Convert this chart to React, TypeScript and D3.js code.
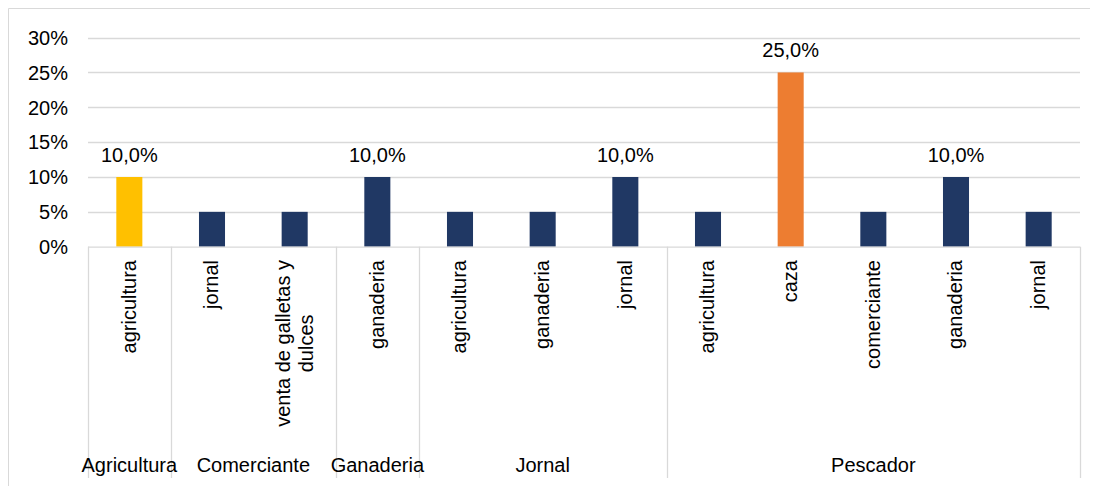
import React, { useEffect, useRef } from "react";
import * as d3 from "d3";

const groups = ["Agricultura", "Comerciante", "Ganaderia", "Jornal", "Pescador"];
const categories = [
  ["Agricultura", "agricultura"],
  ["Comerciante", "jornal"],
  ["Comerciante", "venta de galletas y dulces"],
  ["Ganaderia", "ganaderia"],
  ["Jornal", "agricultura"],
  ["Jornal", "ganaderia"],
  ["Jornal", "jornal"],
  ["Pescador", "agricultura"],
  ["Pescador", "caza"],
  ["Pescador", "comerciante"],
  ["Pescador", "ganaderia"],
  ["Pescador", "jornal"],
];
const values = [0.1, 0.05, 0.05, 0.1, 0.05, 0.05, 0.1, 0.05, 0.25, 0.05, 0.1, 0.05];
const barColors = ["#FFC000", "#203864", "#203864", "#203864", "#203864", "#203864", "#203864", "#203864", "#ED7D31", "#203864", "#203864", "#203864"];
const showLabel = [true, false, false, true, false, false, true, false, true, false, true, false];
const yTicks = [0, 0.05, 0.1, 0.15, 0.2, 0.25, 0.3];
const wrappedLabels: Record<string, string[]> = {
  "venta de galletas y dulces": ["venta de galletas y", "dulces"],
};

const W = 1090;
const H = 478;
const FONT = "'Liberation Sans', Arial, sans-serif";
const FS = 20;

export default function App() {
  const ref = useRef<SVGSVGElement>(null);
  useEffect(() => {
    const svg = d3.select(ref.current);
    svg.selectAll("*").remove();
    const left = 80, right = 1072, top = 29.6, bottom = 238.7;
    const x = d3.scaleBand<number>().domain(d3.range(categories.length)).range([left, right]).paddingInner(0.685).paddingOuter(0.3425);
    const xs = d3.scaleBand<number>().domain(d3.range(categories.length)).range([left, right]);
    const y = d3.scaleLinear().domain([0, 0.3]).range([bottom, top]);
    const grid = "#D9D9D9";

    // outer border (top & left visible)
    svg.append("line").attr("x1", 0.5).attr("x2", W).attr("y1", 0.5).attr("y2", 0.5).attr("stroke", grid);
    svg.append("line").attr("x1", 0.5).attr("x2", 0.5).attr("y1", 0.5).attr("y2", H).attr("stroke", grid);

    // gridlines
    svg.selectAll(".g").data(yTicks.slice(1)).enter().append("line")
      .attr("x1", left).attr("x2", right)
      .attr("y1", (d) => Math.round(y(d)) + 0.5).attr("y2", (d) => Math.round(y(d)) + 0.5)
      .attr("stroke", grid).attr("stroke-width", 1.3);

    // y tick labels
    const fmt = (d: number) => `${Math.round(d * 100)}%`;
    svg.selectAll(".yt").data(yTicks).enter().append("text")
      .attr("x", 60).attr("y", (d) => y(d) + 7.3)
      .attr("text-anchor", "end").attr("font-family", FONT).attr("font-size", FS).attr("fill", "#000")
      .text(fmt);

    // bars
    svg.selectAll(".b").data(values).enter().append("rect")
      .attr("x", (_, i) => x(i)!).attr("width", x.bandwidth())
      .attr("y", (d) => y(d)).attr("height", (d) => bottom - y(d))
      .attr("fill", (_, i) => barColors[i]);

    // data labels
    const lf = (d: number) => (d * 100).toFixed(1).replace(".", ",") + "%";
    values.forEach((v, i) => {
      if (!showLabel[i]) return;
      svg.append("text").attr("x", xs(i)! + xs.bandwidth() / 2).attr("y", y(v) - 15.5)
        .attr("text-anchor", "middle").attr("font-family", FONT).attr("font-size", FS).attr("fill", "#000")
        .text(lf(v));
    });

    // axis baseline
    svg.append("line").attr("x1", left).attr("x2", right).attr("y1", bottom + 0.5).attr("y2", bottom + 0.5).attr("stroke", grid).attr("stroke-width", 1.3);

    // group separators
    const bounds: number[] = [0];
    groups.forEach((g) => {
      const last = categories.map((c) => c[0]).lastIndexOf(g);
      bounds.push(last + 1);
    });
    bounds.forEach((b) => {
      const xx = b < categories.length ? xs(b)! : right;
      svg.append("line").attr("x1", Math.round(xx) + 0.5).attr("x2", Math.round(xx) + 0.5)
        .attr("y1", bottom).attr("y2", 470).attr("stroke", grid).attr("stroke-width", 1.3);
    });

    // category labels (rotated)
    const labTop = 252;
    categories.forEach((c, i) => {
      const cx = xs(i)! + xs.bandwidth() / 2;
      const lines = wrappedLabels[c[1]] || [c[1]];
      const g = svg.append("g");
      const texts = lines.map((ln) =>
        g.append("text").attr("font-family", FONT).attr("font-size", FS).attr("fill", "#000").text(ln)
      );
      const lens = texts.map((t) => (t.node() as SVGTextElement).getComputedTextLength());
      const maxLen = d3.max(lens)!;
      const cy = labTop + maxLen / 2;
      const lh = 23;
      texts.forEach((t, k) => {
        const off = (k - (lines.length - 1) / 2) * lh;
        t.attr("text-anchor", "middle").attr("transform", `translate(${cx + off},${cy}) rotate(-90)`).attr("dy", "0.32em");
      });
    });

    // group labels
    groups.forEach((g, gi) => {
      const a = bounds[gi], b = bounds[gi + 1];
      const x0 = xs(a)!;
      const x1 = b < categories.length ? xs(b)! : right;
      svg.append("text").attr("x", (x0 + x1) / 2).attr("y", 464).attr("text-anchor", "middle")
        .attr("font-family", FONT).attr("font-size", FS).attr("fill", "#000").text(g);
    });
  }, []);
  return <svg ref={ref} width={W} height={H} style={{ display: "block" }} />;
}
